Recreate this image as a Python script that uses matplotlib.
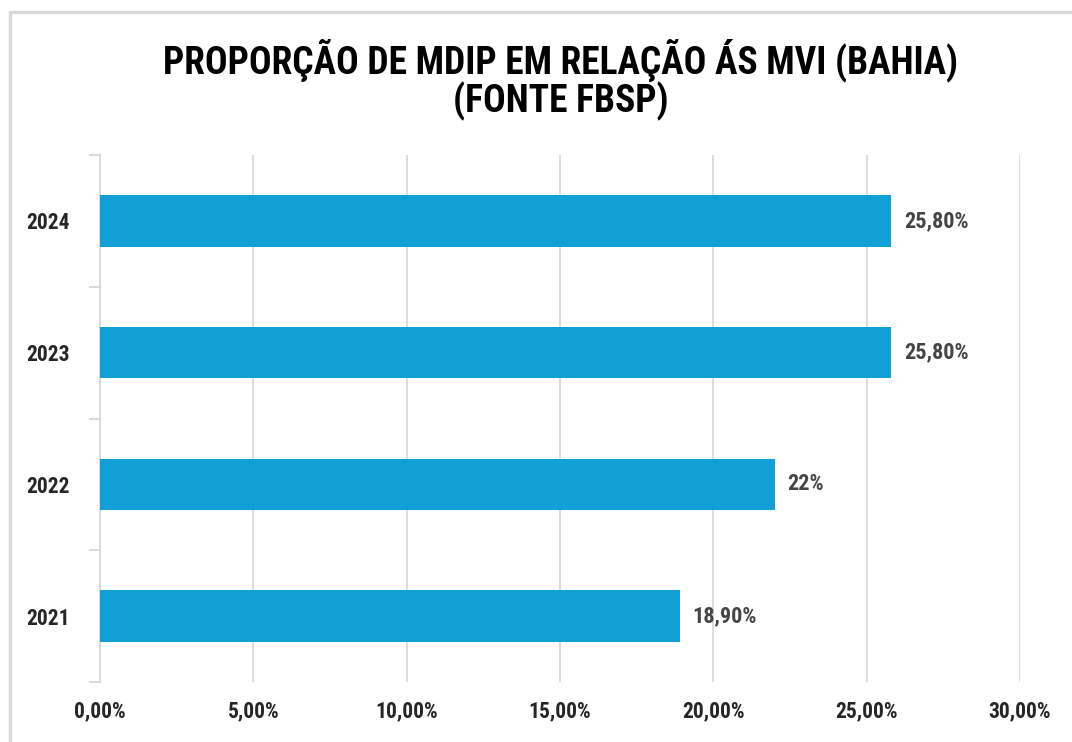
import matplotlib.pyplot as plt
import matplotlib.patches as patches
from matplotlib.ticker import FixedLocator, FuncFormatter

# data
anos = ["2021", "2022", "2023", "2024"]
valores = [18.9, 22.0, 25.8, 25.8]
rotulos = ["18,90%", "22%", "25,80%", "25,80%"]
ticks_x = [0, 5, 10, 15, 20, 25, 30]

plt.rcParams['font.family'] = ["Roboto Condensed", "DejaVu Sans"]

fig = plt.figure(figsize=(10.72, 7.42), dpi=100)
ax = fig.add_axes([100 / 1072, 1 - 682 / 742, 920 / 1072, 527 / 742])

# outer frame of the chart
fig.patches.append(patches.Rectangle((10 / 1072, -0.01), 1.1, 1 - 12 / 742 + 0.01,
                                     transform=fig.transFigure, fill=False,
                                     edgecolor='#d9d9d9', linewidth=2.5))

y = range(len(anos))
ax.barh(y, valores, height=0.39, color='#119fd6', zorder=3)

for i, (v, lab) in enumerate(zip(valores, rotulos)):
    ax.text(v + 0.42, i, lab, va='center', ha='left', fontsize=16,
            fontweight='bold', color='#454545')

ax.set_xlim(0, 30)
ax.set_ylim(-0.5, len(anos) - 0.5)
ax.xaxis.set_major_locator(FixedLocator(ticks_x))
ax.xaxis.set_major_formatter(FuncFormatter(lambda v, p: f"{v:.2f}".replace('.', ',') + "%"))
ax.grid(axis='x', color='#d9d9d9', linewidth=1.3, zorder=0)
ax.tick_params(axis='x', length=0, pad=13, labelsize=15.5, labelcolor='#262626')

ax.set_yticks(list(y))
ax.set_yticklabels(anos, fontsize=15.5, fontweight='bold', color='#262626')
ax.tick_params(axis='y', length=0, pad=21.5)
# category boundary ticks
ax.set_yticks([i - 0.5 for i in range(len(anos) + 1)], minor=True)
ax.tick_params(axis='y', which='minor', length=8, color='#d9d9d9', width=1.3)

for lbl in ax.get_xticklabels():
    lbl.set_fontweight('bold')

for s in ['top', 'right', 'bottom']:
    ax.spines[s].set_visible(False)
ax.spines['left'].set_color('#d9d9d9')
ax.spines['left'].set_linewidth(1.3)

fig.text(561 / 1072, 1 - 60 / 742, "PROPORÇÃO DE MDIP EM RELAÇÃO ÁS MVI (BAHIA)",
         ha='center', va='center', fontsize=27, fontweight='bold', color='black')
fig.text(561 / 1072, 1 - 101 / 742, "(FONTE FBSP)",
         ha='center', va='center', fontsize=27, fontweight='bold', color='black')

fig.savefig("out.png", dpi=100)
